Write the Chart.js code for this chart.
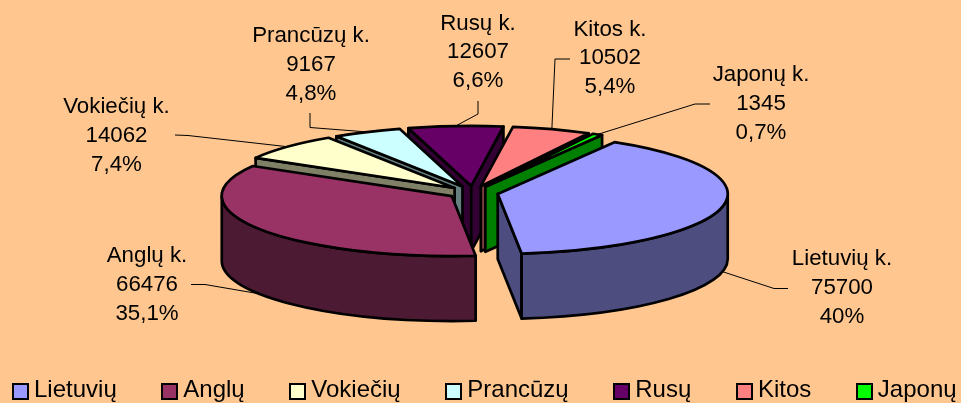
<!DOCTYPE html>
<html>
<head>
<meta charset="utf-8">
<script src="https://cdn.jsdelivr.net/npm/chart.js@4"></script>
<style>
  html, body { margin: 0; padding: 0; background: #FFC78F; overflow: hidden; }
  #wrap { position: relative; width: 961px; height: 403px; }
  #legend { position: absolute; left: 12px; top: 375px; display: flex; gap: 44.6px;
            font: 24px "Liberation Sans", Arial, sans-serif; color: #000; white-space: nowrap; }
  #legend div { display: flex; align-items: center; height: 28px; }
  #legend i { display: block; width: 13px; height: 13px; border: 2px solid #000; margin-right: 5px; margin-top: 4px; }
</style>
</head>
<body>
<div id="wrap">
  <canvas id="kalbos"></canvas>
  <div id="legend"></div>
</div>
<script>
// duomenys
const categories = ['Lietuvių', 'Anglų', 'Vokiečių', 'Prancūzų', 'Rusų', 'Kitos', 'Japonų'];
const calloutNames = ['Lietuvių k.', 'Anglų k.', 'Vokiečių k.', 'Prancūzų k.', 'Rusų k.', 'Kitos k.', 'Japonų k.'];
const values = [75700, 66476, 14062, 9167, 12607, 10502, 1345];
const percents = ['40%', '35,1%', '7,4%', '4,8%', '6,6%', '5,4%', '0,7%'];
const topColors = ['#9999FF', '#993366', '#FFFFCC', '#CCFFFF', '#660066', '#FF8080', '#00FF00'];
const sideColors = ['#4D4D80', '#4D1A33', '#808066', '#668080', '#330033', '#804040', '#008000'];

// callout text centres and the leader elbows (leader end comes from the slice)
const calloutPos = [[842, 259], [147, 256], [116.5, 107], [311, 36], [478, 23.5], [610, 29.5], [761, 75]];
const leaderElbows = [
  [[788, 288.5], [774, 288.5]],
  [[191, 284.5], [205, 284.5]],
  [[175, 135], [188, 135.5]],
  [[310, 113], [310, 127.5]],
  [[478, 101], [478, 114]],
  [[570, 59], [555, 59]],
  [[710, 104], [695, 104]]
];

const RADIUS = 100;       // chart radius before the tilt
const SCALE_X = 2.3;
const SCALE_Y = 0.6;
const EXPLODE = 11;
const DEPTH = 65;
const LINE = 2.7;
const drawOrder = [4, 5, 3, 6, 2, 0, 1]; // back to front

function arcGeom(arc) {
  const mid = (arc.startAngle + arc.endAngle) / 2;
  const cx = arc.x + Math.cos(mid) * EXPLODE * SCALE_X;
  const cy = arc.y + Math.sin(mid) * EXPLODE * SCALE_Y;
  const rx = arc.outerRadius * SCALE_X;
  const ry = arc.outerRadius * SCALE_Y;
  return { cx, cy, rx, ry, mid,
    at: (a) => [cx + Math.cos(a) * rx, cy + Math.sin(a) * ry] };
}

function stroked(ctx, color) {
  ctx.fillStyle = color;
  ctx.fill();
  ctx.strokeStyle = '#000';
  ctx.lineWidth = LINE;
  ctx.lineJoin = 'round';
  ctx.stroke();
}

function radialWall(ctx, g, a, color) {
  const p = g.at(a);
  ctx.beginPath();
  ctx.moveTo(g.cx, g.cy);
  ctx.lineTo(p[0], p[1]);
  ctx.lineTo(p[0], p[1] + DEPTH);
  ctx.lineTo(g.cx, g.cy + DEPTH);
  ctx.closePath();
  stroked(ctx, color);
}

const pie3d = {
  id: 'pie3d',
  beforeDatasetsDraw(chart) {
    const ctx = chart.ctx;
    const arcs = chart.getDatasetMeta(0).data;

    // leaders go under the pie
    ctx.save();
    ctx.strokeStyle = '#000';
    ctx.lineWidth = 1;
    arcs.forEach((arc, i) => {
      const g = arcGeom(arc);
      const end = g.at(g.mid);
      if (Math.sin(g.mid) > 0) end[1] += DEPTH;
      ctx.beginPath();
      leaderElbows[i].forEach((p, j) => j ? ctx.lineTo(p[0], p[1]) : ctx.moveTo(p[0], p[1]));
      ctx.lineTo(end[0], end[1]);
      ctx.stroke();
    });
    ctx.restore();

    drawOrder.forEach((i) => {
      const arc = arcs[i];
      const g = arcGeom(arc);

      // sides
      if (Math.cos(arc.startAngle) < 0) radialWall(ctx, g, arc.startAngle, sideColors[i]);
      if (Math.cos(arc.endAngle) > 0) radialWall(ctx, g, arc.endAngle, sideColors[i]);
      const lo = Math.max(arc.startAngle, 0);
      const hi = Math.min(arc.endAngle, Math.PI);
      if (lo < hi) {
        ctx.beginPath();
        ctx.ellipse(g.cx, g.cy, g.rx, g.ry, 0, lo, hi);
        ctx.ellipse(g.cx, g.cy + DEPTH, g.rx, g.ry, 0, hi, lo, true);
        ctx.closePath();
        stroked(ctx, sideColors[i]);
      }

      // top face, the library's own arc under a tilt
      ctx.save();
      ctx.translate(arc.x, arc.y);
      ctx.scale(SCALE_X, SCALE_Y);
      ctx.translate(-arc.x, -arc.y);
      ctx.translate(Math.cos(g.mid) * EXPLODE, Math.sin(g.mid) * EXPLODE);
      arc.draw(ctx);
      ctx.restore();

      ctx.beginPath();
      ctx.moveTo(g.cx, g.cy);
      ctx.ellipse(g.cx, g.cy, g.rx, g.ry, 0, arc.startAngle, arc.endAngle);
      ctx.closePath();
      ctx.strokeStyle = '#000';
      ctx.lineWidth = LINE;
      ctx.lineJoin = 'round';
      ctx.stroke();
    });
    return false;
  },
  afterDraw(chart) {
    const ctx = chart.ctx;
    ctx.save();
    ctx.fillStyle = '#000';
    ctx.font = '22.3px "Liberation Sans", Arial, sans-serif';
    ctx.textAlign = 'center';
    ctx.textBaseline = 'middle';
    calloutPos.forEach((p, i) => {
      ctx.fillText(calloutNames[i], p[0], p[1]);
      ctx.fillText(String(values[i]), p[0], p[1] + 28.7);
      ctx.fillText(percents[i], p[0], p[1] + 57.4);
    });
    ctx.restore();
  }
};

const chart = new Chart(document.getElementById('kalbos'), {
  type: 'pie',
  plugins: [pie3d],
  data: {
    labels: categories,
    datasets: [{
      data: values,
      backgroundColor: topColors,
      borderWidth: 0
    }]
  },
  options: {
    responsive: true,
    maintainAspectRatio: false,
    animation: false,
    rotation: 30.5,
    radius: RADIUS,
    layout: { padding: { right: 15, bottom: 18 } },
    plugins: {
      legend: { display: false },
      tooltip: { enabled: false }
    }
  }
});

// html legend
const legendBox = document.getElementById('legend');
categories.forEach((name, i) => {
  const item = document.createElement('div');
  const swatch = document.createElement('i');
  swatch.style.background = topColors[i];
  item.appendChild(swatch);
  item.appendChild(document.createTextNode(name));
  legendBox.appendChild(item);
});
</script>
</body>
</html>
